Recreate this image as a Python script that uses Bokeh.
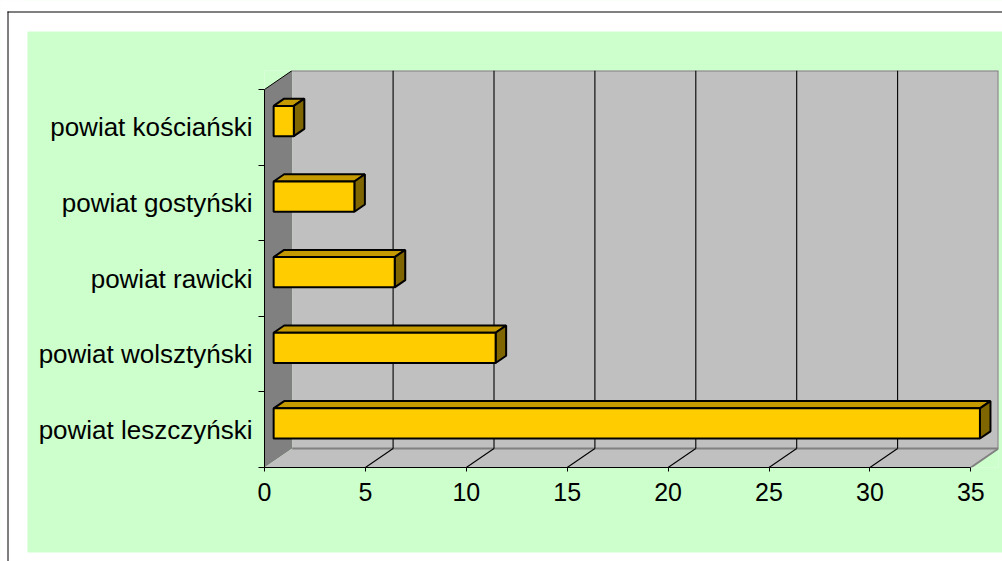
from bokeh.plotting import figure
from bokeh.models import Range1d, FixedTicker, LinearAxis
from bokeh.embed import file_html
from bokeh.resources import INLINE

# ---- data (bottom to top) ----
categories = ["powiat leszczyński", "powiat wolsztyński", "powiat rawicki",
              "powiat gostyński", "powiat kościański"]
values = [35, 11, 6, 4, 1]
xticks = [0, 5, 10, 15, 20, 25, 30, 35]

# ---- layout (pixels) ----
W, H = 1002, 561
FL, FT, FW, FH = 264, 70, 734, 397
DEPTH_X, DEPTH_Y = 27.7, 19.0
ncat = len(categories)
xmax = max(xticks)
sx = (FW - DEPTH_X) / xmax
sy = (FH - DEPTH_Y) / ncat
DX = DEPTH_X / sx
DY = DEPTH_Y / sy

GREEN = "#CCFFCC"
FONT = "Liberation Sans"

p = figure(width=W, height=H,
           x_range=Range1d(0, xmax + DX), y_range=Range1d(0, ncat + DY),
           output_backend="svg", toolbar_location=None,
           x_axis_location=None, y_axis_location=None,
           min_border_left=FL, min_border_top=FT,
           min_border_right=W - FL - FW, min_border_bottom=H - FT - FH)
p.xgrid.grid_line_color = None
p.ygrid.grid_line_color = None
p.background_fill_color = GREEN
p.border_fill_color = GREEN
p.outline_line_color = None

# ---- walls and floor ----
p.patch([0, DX, DX, 0], [0, DY, ncat + DY, ncat], fill_color="#808080", line_color=None)
p.quad(left=DX, right=xmax + DX, bottom=DY, top=ncat + DY, fill_color="#C0C0C0", line_color=None)
p.patch([0, xmax, xmax + DX, DX], [0, 0, DY, DY], fill_color="#C0C0C0", line_color=None)
# wall edges
p.segment(x0=[DX, xmax + DX, DX, xmax], y0=[ncat + DY, ncat + DY, DY, 0],
          x1=[xmax + DX, xmax + DX, xmax + DX, xmax + DX], y1=[ncat + DY, DY, DY, DY],
          line_color="#808080", line_width=2)
p.segment(x0=[0], y0=[ncat], x1=[DX], y1=[ncat + DY], line_color="black", line_width=1)

# ---- gridlines (back wall and floor) ----
inner = xticks[1:-1]
p.segment(x0=[t + DX for t in inner], y0=[DY] * len(inner),
          x1=[t + DX for t in inner], y1=[ncat + DY] * len(inner),
          line_color="black", line_width=1.1)
p.segment(x0=inner, y0=[0] * len(inner),
          x1=[t + DX for t in inner], y1=[DY] * len(inner),
          line_color="black", line_width=1.1)

# ---- 3D bars ----
f0, f1 = 0.33, 0.71
ox, oy = f0 * DX, f0 * DY
bdx, bdy = (f1 - f0) * DX, (f1 - f0) * DY
xs, ys, cols = [], [], []
for i, v in enumerate(values):
    yb = i + 0.3 + oy
    yt = i + 0.7 + oy
    x0 = ox
    x1 = v + ox
    xs.append([x0, x1, x1 + bdx, x0 + bdx]); ys.append([yt, yt, yt + bdy, yt + bdy]); cols.append("#C49A00")
    xs.append([x1, x1 + bdx, x1 + bdx, x1]); ys.append([yb, yb + bdy, yt + bdy, yt]); cols.append("#806600")
    xs.append([x0, x1, x1, x0]); ys.append([yb, yb, yt, yt]); cols.append("#FFCC00")
p.patches(xs, ys, fill_color=cols, line_color="black", line_width=2)

# ---- axes ----
xaxis = LinearAxis(ticker=FixedTicker(ticks=xticks, minor_ticks=[]), bounds=(0, xmax))
xaxis.axis_line_color = "black"
xaxis.major_tick_line_color = "black"
xaxis.major_tick_out = 4
xaxis.major_tick_in = 0
xaxis.minor_tick_out = 0
xaxis.minor_tick_in = 0
xaxis.major_label_text_font = FONT
xaxis.major_label_text_font_size = "25px"
xaxis.major_label_text_color = "black"
xaxis.major_label_standoff = 11
p.add_layout(xaxis, "below")

centers = [i + 0.5 for i in range(ncat)]
yaxis = LinearAxis(ticker=FixedTicker(ticks=centers, minor_ticks=list(range(ncat + 1))),
                   bounds=(0, ncat))
yaxis.major_label_overrides = {c: lab for c, lab in zip(centers, categories)}
yaxis.axis_line_color = "black"
yaxis.major_tick_line_color = None
yaxis.major_tick_out = 0
yaxis.major_tick_in = 0
yaxis.minor_tick_line_color = "black"
yaxis.minor_tick_out = 6
yaxis.minor_tick_in = 0
yaxis.major_label_text_font = FONT
yaxis.major_label_text_font_size = "26px"
yaxis.major_label_text_color = "black"
yaxis.major_label_standoff = 6
p.add_layout(yaxis, "left")

# ---- outer white margin and black chart border (overlay) ----
def xd(px):
    return (px - FL) / sx

def yd(py):
    return (FT + FH - py) / sy

p.quad(left=[xd(0), xd(0), xd(0)], right=[xd(27), xd(W), xd(W)],
       top=[yd(0), yd(0), yd(552)], bottom=[yd(H), yd(31), yd(H)],
       fill_color="white", line_color=None, level="overlay")
p.segment(x0=[xd(7.5), xd(7)], y0=[yd(11), yd(11.5)], x1=[xd(7.5), xd(W)], y1=[yd(H), yd(11.5)],
          line_color="black", line_width=1, level="overlay")

open("out.html", "w").write(file_html(p, INLINE))
